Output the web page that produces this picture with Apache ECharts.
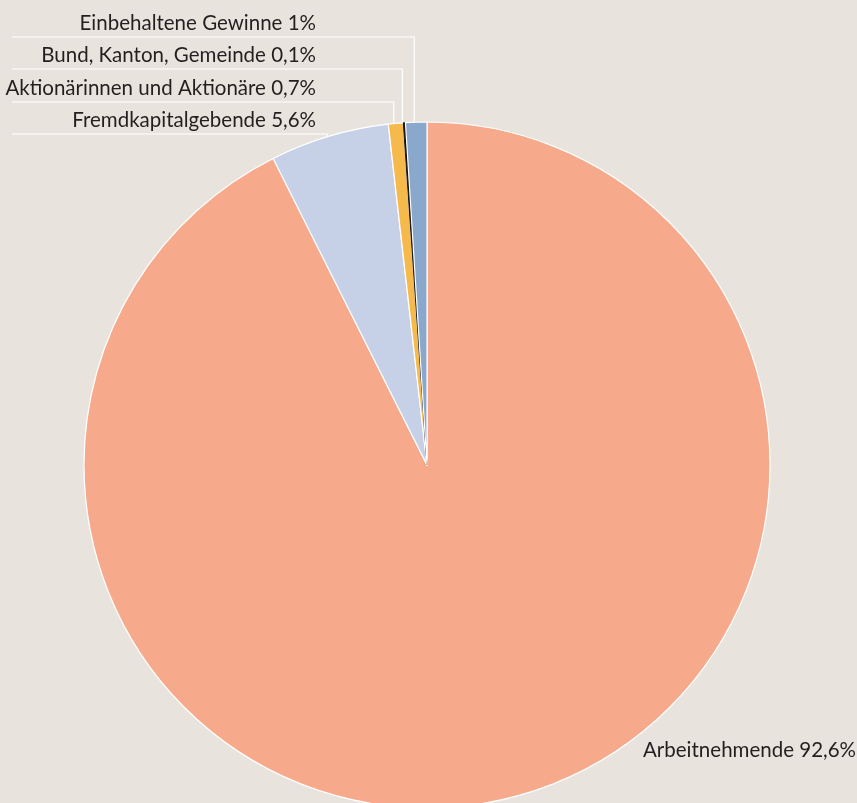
<!DOCTYPE html>
<html>
<head>
<meta charset="utf-8">
<script src="https://cdn.jsdelivr.net/npm/echarts@6/dist/echarts.min.js"></script>
<style>
  html, body { margin: 0; padding: 0; background: #e8e4dd; }
  #chart { width: 857px; height: 803px; }
</style>
</head>
<body>
<div id="chart"></div>
<script>
const categories = [
  'Arbeitnehmende',
  'Fremdkapitalgebende',
  'Aktionärinnen und Aktionäre',
  'Bund, Kanton, Gemeinde',
  'Einbehaltene Gewinne'
];
const shares = [92.6, 5.6, 0.7, 0.1, 1];
const sliceColors = ['#f7a98b', '#c6d1e7', '#f6b94c', '#141414', '#8aa7cc'];

// rows for the stacked labels top left (text centre y), by data index
const labelRows = { 4: 23, 3: 55, 2: 88, 1: 120 };

const chart = echarts.init(document.getElementById('chart'));

chart.setOption({
  backgroundColor: '#e8e4dd',
  animation: false,
  series: [
    {
      type: 'pie',
      center: [427, 465],
      radius: [0, 343],
      startAngle: 90,
      clockwise: true,
      itemStyle: {
        borderColor: '#ffffff',
        borderWidth: 1.2
      },
      label: {
        show: true,
        position: 'outside',
        color: '#231f20',
        fontFamily: 'Lato',
        fontSize: 20.5,
        overflow: 'none',
        formatter: (p) => p.name + ' ' + String(p.value).replace('.', ',') + '%'
      },
      labelLine: {
        show: true,
        length: 10,
        length2: 10,
        lineStyle: { color: '#ffffff', width: 1.2 }
      },
      labelLayout: function (params) {
        const i = params.dataIndex;
        if (i === 0) {
          return { x: 643, y: 750, align: 'left', verticalAlign: 'middle' };
        }
        const ty = labelRows[i];
        const ly = ty + 14;
        const edge = params.labelLinePoints[0];
        return {
          x: 316,
          y: ty,
          align: 'right',
          verticalAlign: 'middle',
          labelLinePoints: [[edge[0] - 2, edge[1] + 10], [edge[0] - 2, ly], [12, ly]]
        };
      },
      data: categories.map((name, i) => ({
        name: name,
        value: shares[i],
        itemStyle: i === 3
          ? { color: sliceColors[i], borderColor: sliceColors[i], borderWidth: 1 }
          : { color: sliceColors[i] },
        labelLine: { show: i !== 0 }
      }))
    }
  ]
});
</script>
</body>
</html>
